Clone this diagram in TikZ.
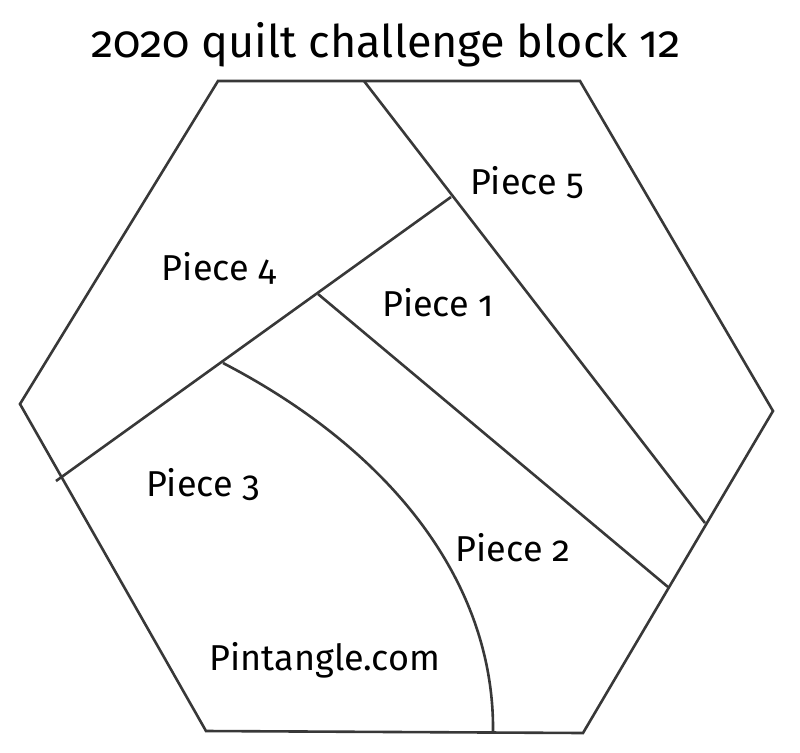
\documentclass[tikz,border=0pt]{standalone}
\usepackage{fontspec}
\setmainfont{Fira Sans}[Numbers=OldStyle]
\usetikzlibrary{calc}
\tikzstyle{seam}=[draw,line width=1.3pt,black!78,line join=miter]
\tikzstyle{piece}=[font=\fontsize{18}{20}\selectfont,inner sep=0pt]
\tikzstyle{heading}=[font=\fontsize{22.5}{26}\selectfont,inner sep=0pt]

\begin{document}
\begin{tikzpicture}[x=0.5pt,y=-0.5pt]

\useasboundingbox (0,0) rectangle (800,752);

    % corners of the hexagon and ends of the seams
    \foreach \x/ \y/ \name in {218/81/tl, 580/81/tr, 773/411/r, 583/733/br, 206/731/bl, 20/404/l,
        364/81/t5, 451/197/j5, 705/523/r5, 56/481/l4, 318/294/j1, 668/587/r1, 223/363/j3, 493/733/b3}
        \coordinate (\name) at (\x,\y);

    \draw[seam] (tl) -- (tr) -- (r) -- (br) -- (bl) -- (l) -- cycle;

    % straight seams
    \foreach \source/ \dest in {t5/r5, l4/j5, j1/r1}
        \path[seam] (\source) -- (\dest);

    \draw[seam] (j3) .. controls (400,455) and (495,590) .. (b3);

    \node[heading] (title) at (386,45) {2020 quilt challenge block 12};

    \foreach \x/ \y/ \name/ \txt in {527/183/p5/Piece 5, 219/268/p4/Piece 4, 438/303/p1/Piece 1,
        203/485/p3/Piece 3, 513/548/p2/Piece 2, 325/660/site/Pintangle.com}
        \node[piece] (\name) at (\x,\y) {\txt};

\end{tikzpicture}
\end{document}
